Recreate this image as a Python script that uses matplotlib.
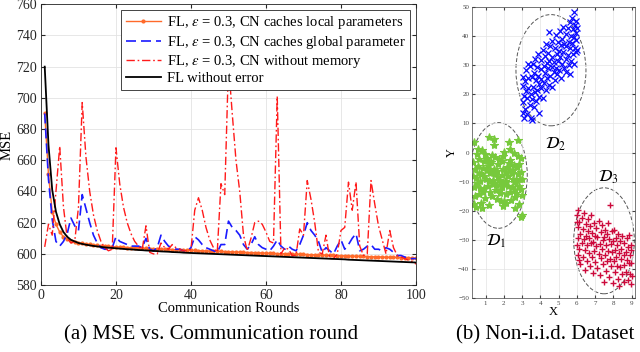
import matplotlib
matplotlib.use("Agg")
import matplotlib.pyplot as plt
from matplotlib.patches import Ellipse

plt.rcParams['font.family'] = ['Liberation Serif', 'DejaVu Serif']
plt.rcParams['mathtext.fontset'] = 'stix'

# ---- data: MSE curves (rounds 1..100) ----
rounds = list(range(1, 101))

mse_local = [690, 651, 627, 619, 614, 611, 609.5, 608.5, 607.8, 607.2,
             606.8, 606.4, 606.1, 605.8, 605.5, 605.3, 605.1, 604.9, 604.7, 604.5,
             604.4, 604.2, 604.1, 604.0, 603.9, 603.7, 603.6, 603.5, 603.4, 603.3,
             603.2, 603.1, 603.0, 602.9, 602.8, 602.7, 602.6, 602.5, 602.4, 602.3,
             602.2, 602.1, 602.0, 601.9, 601.8, 601.8, 601.7, 601.6, 601.5, 601.4,
             601.3, 601.2, 601.1, 601.0, 600.9, 600.9, 600.8, 600.7, 600.6, 600.5,
             600.4, 600.3, 600.2, 600.2, 600.1, 600.0, 599.9, 599.8, 599.7, 599.7,
             599.6, 599.5, 599.4, 599.3, 599.3, 599.2, 599.1, 599.0, 598.9, 598.9,
             598.8, 598.7, 598.6, 598.5, 598.5, 598.4, 598.3, 598.2, 598.1, 598.1,
             598.0, 597.9, 597.8, 597.8, 597.7, 597.6, 597.5, 597.4, 597.4, 597.3]

mse_global = [690, 648, 622, 608, 605, 608, 613, 623, 618, 615,
              638, 629, 620, 612, 607, 604, 603, 603, 604, 611,
              608, 607, 606, 605, 605, 605, 604, 610, 603, 602,
              604, 612, 608, 605, 604, 603, 603, 602, 602, 604,
              611, 609, 606, 604, 603, 602, 601, 606, 606, 621,
              617, 615, 612, 606, 603, 606, 611, 606, 604, 603,
              602, 605, 609, 605, 603, 605, 603, 602, 606, 612,
              620, 615, 612, 608, 601, 604, 602, 600, 605, 609,
              603, 606, 610, 613, 602, 603, 605, 606, 603, 603,
              602, 604, 603, 601, 599, 599, 598, 597, 597, 597]

mse_nomem = [604.5, 619, 612, 640, 669, 630, 610, 607, 608, 630,
             697, 662, 640, 625, 615, 608, 604, 602, 603, 668,
             645, 630, 620, 613, 608, 605, 603, 618, 601, 600,
             600, 607, 604, 603, 606, 604, 603, 602, 602, 603,
             628, 636, 628, 617, 609, 604, 601, 645, 638, 722,
             690, 660, 640, 612, 602, 610, 620, 621, 619, 614,
             608, 607, 701, 600, 604, 603, 599, 599, 616, 612,
             647, 635, 620, 601, 600, 612, 597, 597, 600, 615,
             617, 646, 628, 646, 605, 599, 600, 647, 632, 618,
             609, 600, 615, 604, 599, 598, 597, 596, 595, 593.5]

mse_noerr = [720, 670, 641, 627, 619, 614, 611, 609, 608, 607,
             606.4, 605.9, 605.5, 605.1, 604.8, 604.5, 604.2, 604.0, 603.8, 603.6,
             603.4, 603.2, 603.0, 602.9, 602.7, 602.5, 602.4, 602.2, 602.1, 601.9,
             601.8, 601.6, 601.5, 601.4, 601.2, 601.1, 601.0, 600.8, 600.7, 600.6,
             600.5, 600.4, 600.3, 600.2, 600.1, 600.0, 599.9, 599.8, 599.7, 599.6,
             599.5, 599.4, 599.3, 599.2, 599.1, 599.0, 598.9, 598.8, 598.7, 598.6,
             598.5, 598.4, 598.3, 598.2, 598.1, 598.0, 597.9, 597.8, 597.7, 597.6,
             597.5, 597.4, 597.3, 597.2, 597.1, 597.0, 596.9, 596.8, 596.7, 596.6,
             596.5, 596.3, 596.2, 596.1, 596.0, 595.9, 595.8, 595.7, 595.6, 595.5,
             595.4, 595.3, 595.2, 595.1, 595.0, 594.9, 594.8, 594.7, 594.6, 594.5]

labels = ['FL, $\\varepsilon$ = 0.3, CN caches local parameters',
          'FL, $\\varepsilon$ = 0.3, CN caches global parameter',
          'FL, $\\varepsilon$ = 0.3, CN without memory',
          'FL without error']

# ---- data: non-i.i.d. dataset ----
d1_x = [0.32, 0.47, 0.58, 0.71, 0.83, 0.96, 1.08, 1.19, 1.31, 1.44,
        1.56, 1.67, 1.79, 1.91, 2.03, 2.14, 2.27, 2.38, 2.5, 2.63,
        2.75, 2.86, 2.97, 0.38, 0.52, 0.64, 0.77, 0.89, 1.02, 1.13,
        1.26, 1.37, 1.5, 1.61, 1.73, 1.86, 1.97, 2.09, 2.21, 2.33,
        2.45, 2.57, 2.69, 2.81, 2.93, 0.3, 0.43, 0.56, 0.68, 0.8,
        0.93, 1.05, 1.17, 1.29, 1.41, 1.53, 1.65, 1.77, 1.89, 2.0,
        2.12, 2.24, 2.36, 2.48, 2.6, 2.72, 2.84, 2.96, 0.35, 0.5,
        0.62, 0.74, 0.87, 0.99, 1.11, 1.23, 1.35, 1.47, 1.59, 1.71,
        1.83, 1.95, 2.07, 2.19, 2.31, 2.43, 2.55, 2.67, 2.79, 2.91,
        0.41, 0.66, 0.91, 1.16, 1.39, 1.63, 1.88, 2.11, 2.35, 2.59,
        2.83, 2.99, 1.2, 1.45, 2.3, 2.75, 0.36, 3.0, 2.95, 0.8,
        0.45, 1.95, 2.6]
d1_y = [-3.1, -8.6, 1.4, -12.3, -5.2, -15.7, -1.9, -9.8, -6.4, 2.6,
        -11.1, -4.0, -13.9, -7.7, 0.3, -10.2, -3.6, -16.4, -6.1, -12.8,
        -1.2, -8.9, -14.6, -11.7, -0.4, -6.9, -17.2, -2.8, -9.1, -4.7,
        -13.4, -0.9, -7.3, -16.0, -2.2, -10.6, -5.5, -14.1, -8.2, 1.1,
        -11.9, -4.3, -9.5, -17.8, -6.6, -7.9, -14.9, -4.6, -9.7, 0.9,
        -12.0, -6.0, -18.1, -3.4, -10.9, -1.5, -8.4, -12.7, -3.0, -16.8,
        -6.8, -11.4, -2.5, -9.0, -15.3, -5.0, -11.6, -2.0, -17.6, -10.4,
        -2.3, -7.5, -13.5, -0.6, -11.5, -7.0, -15.0, -5.8, -13.0, -9.4,
        -16.7, -1.0, -9.9, -4.9, -13.6, -7.1, -0.2, -14.0, -7.4, -12.4,
        -5.7, -14.2, -8.0, -2.9, -9.3, -6.2, -11.8, -17.4, -5.9, -10.1,
        -3.9, -9.0, 5.5, 4.5, 3.6, 4.2, 3.8, -21.5, -22.0, -19.2,
        -18.8, -18.3, -18.9]

d2_x = [3.02, 3.02, 3.07, 3.07, 3.11, 3.11, 3.16, 3.16, 3.23, 3.23,
        3.27, 3.27, 3.34, 3.34, 3.41, 3.41, 3.46, 3.46, 3.53, 3.53,
        3.58, 3.58, 3.64, 3.64, 3.69, 3.69, 3.77, 3.77, 3.83, 3.83,
        3.88, 3.88, 3.94, 3.94, 4.01, 4.01, 4.06, 4.06, 4.13, 4.13,
        4.19, 4.19, 4.24, 4.24, 4.31, 4.31, 4.37, 4.37, 4.42, 4.42,
        4.48, 4.48, 4.55, 4.55, 4.61, 4.61, 4.66, 4.66, 4.72, 4.72,
        4.79, 4.79, 4.84, 4.84, 4.9, 4.9, 4.96, 4.96, 5.03, 5.03,
        5.08, 5.08, 5.14, 5.14, 5.21, 5.21, 5.26, 5.26, 5.32, 5.32,
        5.38, 5.38, 5.43, 5.43, 5.49, 5.49, 5.56, 5.56, 5.61, 5.61,
        5.67, 5.67, 5.72, 5.72, 5.78, 5.78, 5.84, 5.84, 5.89, 5.89,
        5.93, 5.93, 5.97, 5.97, 6.0, 6.0,
        5.85, 3.55, 3.9, 4.5, 3.3, 5.6]
d2_y = [13.7, 22.9, 17.3, 26.1, 11.8, 19.5, 24.7, 15.1, 21.0, 28.4,
        13.2, 18.6, 25.5, 22.2, 16.4, 29.7, 20.1, 11.9, 25.9, 18.3,
        30.4, 22.6, 15.7, 27.2, 20.8, 32.1, 24.9, 17.6, 29.3, 21.4,
        26.2, 33.8, 19.2, 23.5, 28.6, 31.9, 22.1, 25.3, 35.1, 18.7,
        29.8, 24.0, 27.3, 33.2, 21.6, 37.4, 30.9, 25.7, 34.3, 28.9,
        23.1, 31.6, 36.5, 26.4, 29.5, 33.0, 22.4, 38.2, 31.2, 27.6,
        35.8, 24.8, 29.1, 40.3, 33.7, 26.9, 37.9, 31.5, 28.3, 35.0,
        41.6, 32.7, 25.6, 36.9, 30.4, 39.1, 34.5, 43.2, 28.9, 37.3,
        32.1, 40.6, 36.7, 27.8, 42.8, 33.4, 38.0, 30.2, 35.9, 44.7,
        31.3, 40.1, 37.6, 46.1, 33.9, 42.3, 39.8, 30.5, 44.0, 36.1,
        41.2, 34.6, 38.7, 45.3, 35.4, 42.9,
        48.2, 11.2, 13.5, 41.5, 30.5, 27.0]

d3_x = [6.01, 6.01, 6.05, 6.05, 6.09, 6.09, 6.14, 6.14, 6.2, 6.2,
        6.26, 6.26, 6.31, 6.31, 6.37, 6.37, 6.43, 6.43, 6.48, 6.48,
        6.54, 6.54, 6.6, 6.6, 6.65, 6.65, 6.71, 6.71, 6.78, 6.78,
        6.84, 6.84, 6.9, 6.9, 6.95, 6.95, 7.02, 7.02, 7.07, 7.07,
        7.13, 7.13, 7.19, 7.19, 7.25, 7.25, 7.3, 7.3, 7.36, 7.36,
        7.42, 7.42, 7.47, 7.47, 7.53, 7.53, 7.59, 7.59, 7.64, 7.64,
        7.7, 7.7, 7.76, 7.76, 7.8, 7.8, 7.87, 7.87, 7.93, 7.93,
        7.98, 7.98, 8.04, 8.04, 8.1, 8.1, 8.15, 8.15, 8.21, 8.21,
        8.27, 8.27, 8.33, 8.33, 8.39, 8.39, 8.44, 8.44, 8.5, 8.5,
        8.56, 8.56, 8.61, 8.61, 8.67, 8.67, 8.73, 8.73, 8.78, 8.78,
        8.84, 8.84, 8.9, 8.9, 8.95, 8.95, 8.99, 8.99,
        9.0, 6.0, 6.1]
d3_y = [-21.3, -31.8, -25.6, -35.2, -19.8, -29.4, -33.1, -23.7, -27.9, -38.3,
        -22.6, -31.0, -35.7, -26.3, -29.8, -20.9, -33.6, -40.2, -24.5, -28.7,
        -37.1, -31.9, -22.8, -27.0, -34.4, -29.5, -25.3, -38.9, -31.2, -21.6,
        -35.8, -27.7, -41.3, -30.6, -24.1, -33.9, -28.8, -37.5, -32.2, -25.9,
        -39.6, -29.1, -23.4, -34.7, -31.5, -42.1, -27.2, -36.3, -33.0, -24.8,
        -38.2, -30.1, -29.0, -44.3, -35.1, -26.6, -31.7, -40.7, -27.9, -37.2,
        -33.9, -24.2, -42.6, -29.6, -18.0, -36.4, -31.3, -39.0, -27.1, -34.2,
        -44.9, -30.5, -37.3, -26.5, -33.4, -41.1, -29.4, -36.0, -38.8, -31.9,
        -43.5, -27.8, -34.6, -46.0, -30.2, -39.4, -36.7, -33.0, -41.8, -28.6,
        -35.3, -44.4, -31.0, -38.5, -40.9, -34.1, -29.5, -36.9, -43.9, -32.4,
        -38.0, -28.3, -35.2, -41.7, -31.6, -45.3, -37.8, -33.5,
        -42.4, -23.8, -36.9]

# ellipses: center x, center y, width, height
ell_cx = [1.7, 4.58, 7.49]
ell_cy = [-7.85, 28.3, -30.3]
ell_w = [3.16, 3.84, 3.32]
ell_h = [36.3, 38.2, 36.4]
d_names = ['$\\mathcal{D}_1$', '$\\mathcal{D}_2$', '$\\mathcal{D}_3$']
d_lx = [1.6, 4.85, 7.75]
d_ly = [-30.5, 3.0, -8.5]

# ---- figure ----
fig = plt.figure(figsize=(6.4, 3.52), dpi=100)

ax1 = fig.add_axes([0.064, 0.19, 0.586, 0.798])
ax1.plot(rounds, mse_local, color='#ff6a2a', lw=1.0, marker='.', ms=4, label=labels[0])
ax1.plot(rounds, mse_global, color='#1a1aff', lw=1.2, ls=(0, (6, 3)), label=labels[1])
ax1.plot(rounds, mse_nomem, color='#ff1a1a', lw=1.0, ls=(0, (6, 2, 1.2, 2)), label=labels[2])
ax1.plot(rounds, mse_noerr, color='black', lw=1.3, label=labels[3])

ax1.set_xlim(0, 100)
ax1.set_ylim(580, 760)
ax1.set_xticks([0, 20, 40, 60, 80, 100])
ax1.set_yticks(range(580, 761, 20))
ax1.grid(True, color='#e3e3e3', lw=0.6)
ax1.tick_params(direction='in', top=True, right=True, labelsize=10, length=3, pad=3,
                colors='#262626')
for s in ax1.spines.values():
    s.set_color('#262626')
    s.set_linewidth(0.6)
ax1.set_xlabel('Communication Rounds', fontsize=10.5, labelpad=0)
ax1.set_ylabel('MSE', fontsize=10.5, labelpad=2)
leg = ax1.legend(loc='upper right', fontsize=10.5, fancybox=False, framealpha=1,
                 edgecolor='#262626', handlelength=2.4, borderpad=0.3,
                 labelspacing=0.15, handletextpad=0.4, borderaxespad=0.4)
leg.get_frame().set_linewidth(0.6)

ax2 = fig.add_axes([0.7375, 0.153, 0.255, 0.827])
ax2.plot(d1_x, d1_y, ls='none', marker='*', ms=6, color='#77c93c', mew=0.8)
ax2.plot(d2_x, d2_y, ls='none', marker='x', ms=4.2, color='#0a0aff', mew=0.9)
ax2.plot(d3_x, d3_y, ls='none', marker='+', ms=5, color='#cc0a3c', mew=1.0)
for i in range(3):
    ax2.add_patch(Ellipse((ell_cx[i], ell_cy[i]), ell_w[i], ell_h[i], fill=False,
                          ls=(0, (4, 2)), lw=0.7, ec='#555555'))
    ax2.text(d_lx[i], d_ly[i], d_names[i], fontsize=12, ha='center', va='center')

ax2.set_xlim(0.25, 9.2)
ax2.set_ylim(-50, 50)
ax2.set_xticks(range(1, 10))
ax2.set_yticks(range(-50, 51, 10))
ax2.grid(True, color='#e3e3e3', lw=0.5)
ax2.tick_params(direction='in', top=True, right=True, labelsize=5, length=2, pad=2,
                colors='#444444')
for s in ax2.spines.values():
    s.set_color('#444444')
    s.set_linewidth(0.5)
ax2.set_xlabel('X', fontsize=9, labelpad=0)
ax2.set_ylabel('Y', fontsize=9, labelpad=0)

fig.text(0.33, 0.048, '(a) MSE vs. Communication round', fontsize=15,
         ha='center', va='center')
fig.text(0.852, 0.048, '(b) Non-i.i.d. Dataset', fontsize=15,
         ha='center', va='center')

fig.savefig('out.png', dpi=100)
